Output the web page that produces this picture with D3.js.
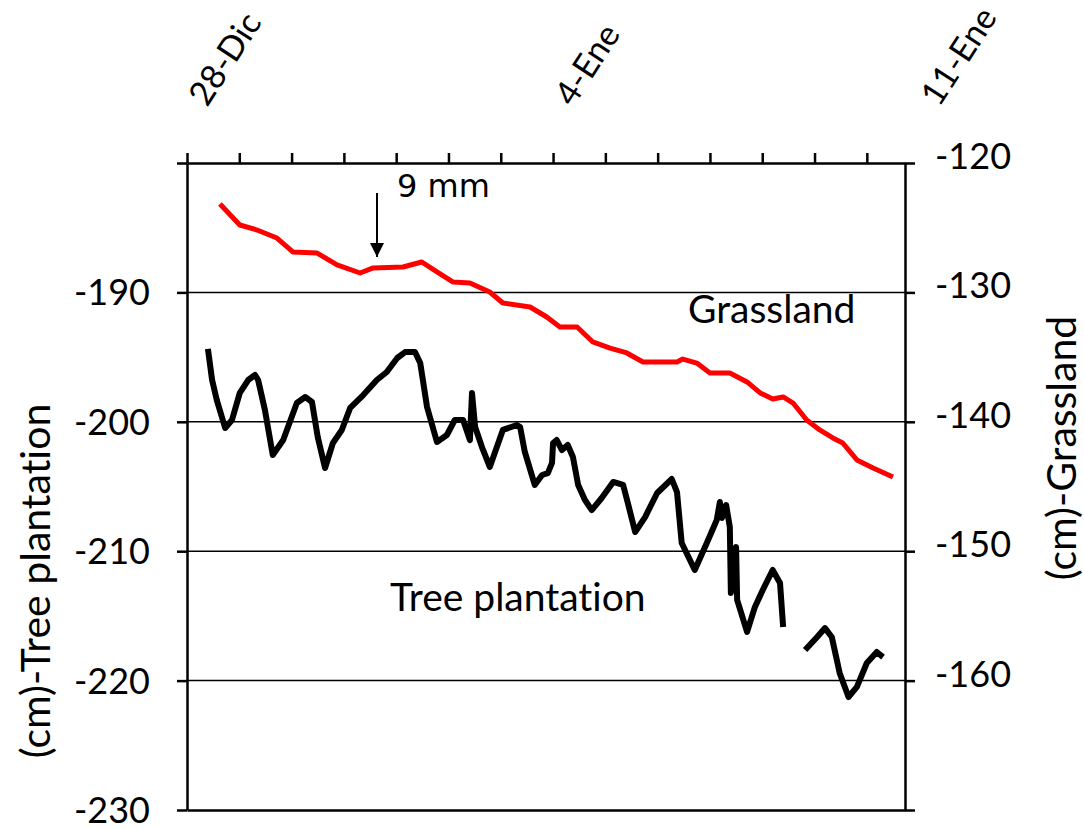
<!DOCTYPE html>
<html>
<head>
    <meta charset="utf-8">
    <style>
        html, body { margin: 0; background: #fff; }
        text { font-family: Lato, 'Open Sans', sans-serif; fill: #000; font-variant-ligatures: none; }
        .axis path, .axis line { stroke: #000; stroke-width: 2.5px; }
        .grid line { stroke: #000; stroke-width: 1.5px; }
    </style>
</head>
<body>
    <svg id="chart" width="1084" height="830"></svg>

    <script src="https://cdn.jsdelivr.net/npm/d3@7/dist/d3.min.js"></script>

    <script>
        // days since 28-Dic
        var dateDays = [0, 7, 14],
            dateLabels = ["28-Dic", "4-Ene", "11-Ene"];

        var leftTicks = [-230, -220, -210, -200, -190, -180],
            rightTicks = [-170, -160, -150, -140, -130, -120];

        // Grassland (right axis)
        var grassDay = [0.63, 1.01, 1.34, 1.72, 2.03, 2.49, 2.87, 3.31, 3.56, 4.13, 4.49, 4.78,
            5.09, 5.41, 5.79, 6.04, 6.56, 6.88, 7.13, 7.46, 7.76, 8.09, 8.41, 8.72, 9.37, 9.48,
            9.75, 10.00, 10.38, 10.71, 10.96, 11.20, 11.40, 11.59, 11.85, 12.10, 12.35, 12.54,
            12.81, 13.12, 13.50];
        var grassVal = [-123.17, -124.79, -125.18, -125.80, -126.88, -126.96, -127.88, -128.50,
            -128.11, -128.04, -127.65, -128.42, -129.20, -129.27, -129.97, -130.82, -131.13,
            -131.90, -132.67, -132.67, -133.83, -134.30, -134.68, -135.38, -135.38, -135.15,
            -135.46, -136.23, -136.23, -136.92, -137.77, -138.24, -138.08, -138.55, -139.86,
            -140.63, -141.25, -141.64, -142.95, -143.57, -144.27];

        // Tree plantation (left axis), null = gap in record
        var treeDay = [0.40, 0.48, 0.57, 0.73, 0.86, 1.01, 1.17, 1.30, 1.36, 1.49, 1.64, 1.84,
            2.10, 2.26, 2.39, 2.50, 2.64, 2.79, 2.96, 3.12, 3.37, 3.63, 3.82, 4.02, 4.17, 4.36,
            4.46, 4.59, 4.78, 4.97, 5.12, 5.28, 5.41, 5.45, 5.51, 5.64, 5.79, 6.04, 6.31, 6.37,
            6.46, 6.65, 6.79, 6.90, 6.98, 7.00, 7.07, 7.17, 7.28, 7.38, 7.48, 7.61, 7.74, 7.93,
            8.15, 8.34, 8.43, 8.57, 8.76, 8.99, 9.27, 9.37, 9.46, 9.71, 9.94, 10.13, 10.19,
            10.23, 10.31, 10.38, 10.40, 10.50, 10.52, 10.71, 10.86, 11.01, 11.20, 11.34, 11.40,
            11.60,
            11.82, 12.05, 12.20, 12.33, 12.48, 12.65, 12.81, 13.00, 13.19, 13.31];
        var treeVal = [-194.37, -196.77, -198.32, -200.48, -199.86, -197.77, -196.77, -196.38,
            -196.77, -199.09, -202.57, -201.41, -198.55, -198.08, -198.47, -201.17, -203.57,
            -201.64, -200.63, -198.93, -197.93, -196.77, -196.15, -195.07, -194.61, -194.61,
            -195.46, -198.86, -201.56, -201.02, -199.86, -199.86, -201.41, -197.77, -200.40,
            -201.95, -203.49, -200.63, -200.25, -200.40, -202.33, -204.88, -204.11, -203.96,
            -203.18, -201.64, -201.41, -202.18, -201.79, -202.72, -204.88, -206.04, -206.82,
            -205.89, -204.65, -204.88, -206.28, -208.52, -207.36, -205.50, -204.42, -205.43,
            -209.37, -211.45, -209.37, -207.59, -206.20, -207.43, -206.43, -208.13, -213.23,
            -209.68, -213.77, -216.24, -214.31, -213.00, -211.45, -212.46, -215.86,
            null,
            -217.64, -216.63, -215.94, -216.63, -219.41, -221.27, -220.49, -218.64, -217.79,
            -218.18];

        var svg = d3.select("#chart");
        var plotL = 187, plotR = 905, plotT = 163, plotB = 810;

        var x = d3.scaleLinear().domain([0, 13.73]).range([plotL, plotR]);
        var yL = d3.scaleLinear().domain([-230, -180]).range([plotB, plotT]);
        var yR = d3.scaleLinear().domain([-170, -120]).range([plotB, plotT]);

        // gridlines
        svg.append("g")
            .attr("class", "grid")
            .selectAll("line")
            .data([-220, -210, -200, -190])
            .enter().append("line")
            .attr("x1", plotL).attr("x2", plotR)
            .attr("y1", function(d) { return yL(d); })
            .attr("y2", function(d) { return yL(d); });

        // axes
        svg.append("g").attr("class", "axis")
            .attr("transform", "translate(" + plotL + ",0)")
            .call(d3.axisLeft(yL).tickValues(leftTicks).tickSize(10).tickSizeOuter(0).tickFormat(""));
        svg.append("g").attr("class", "axis")
            .attr("transform", "translate(" + plotR + ",0)")
            .call(d3.axisRight(yR).tickValues(rightTicks).tickSize(10).tickSizeOuter(0).tickFormat(""));
        svg.append("g").attr("class", "axis")
            .attr("transform", "translate(0," + plotT + ")")
            .call(d3.axisTop(x).tickValues(d3.range(0, 14)).tickSize(10).tickSizeOuter(0).tickFormat(""));
        svg.append("g").attr("class", "axis")
            .attr("transform", "translate(0," + plotB + ")")
            .call(d3.axisBottom(x).tickValues([]).tickSizeOuter(0));

        // tick labels
        svg.append("g").selectAll("text")
            .data(leftTicks.filter(function(d) { return d < -180; }))
            .enter().append("text")
            .attr("x", plotL - 37)
            .attr("y", function(d) { return yL(d); })
            .attr("dy", "0.36em")
            .attr("text-anchor", "end")
            .style("font-size", "36px")
            .text(function(d) { return d; });

        svg.append("g").selectAll("text")
            .data(rightTicks.filter(function(d) { return d > -170; }))
            .enter().append("text")
            .attr("x", plotR + 30)
            .attr("y", function(d) { return yR(d) - 7; })
            .attr("dy", "0.36em")
            .style("font-size", "36px")
            .text(function(d) { return d; });

        // rotated date labels
        svg.append("g").selectAll("text")
            .data(dateDays)
            .enter().append("text")
            .attr("transform", function(d) { return "translate(" + (x(d) + 20) + ",108) rotate(-57)"; })
            .style("font-size", "34px")
            .text(function(d, i) { return dateLabels[i]; });

        // axis titles
        svg.append("text")
            .attr("transform", "translate(50,581) rotate(-90)")
            .attr("text-anchor", "middle")
            .style("font-size", "41px")
            .text("(cm)-Tree plantation");
        svg.append("text")
            .attr("transform", "translate(1076,448) rotate(-90)")
            .attr("text-anchor", "middle")
            .style("font-size", "41px")
            .text("(cm)-Grassland");

        // series
        var grass = grassDay.map(function(d, i) { return [d, grassVal[i]]; });
        var tree = treeDay.map(function(d, i) { return [d, treeVal[i]]; });

        svg.append("path")
            .datum(grass)
            .attr("fill", "none")
            .attr("stroke", "#ff0000")
            .attr("stroke-width", 5)
            .attr("stroke-linejoin", "round")
            .attr("d", d3.line()
                .x(function(d) { return x(d[0]); })
                .y(function(d) { return yR(d[1]); }));

        svg.append("path")
            .datum(tree)
            .attr("fill", "none")
            .attr("stroke", "#000")
            .attr("stroke-width", 6)
            .attr("stroke-linejoin", "round")
            .attr("d", d3.line()
                .defined(function(d) { return d[1] !== null; })
                .x(function(d) { return x(d[0]); })
                .y(function(d) { return yL(d[1]); }));

        // annotations
        svg.append("text")
            .attr("x", 688).attr("y", 323)
            .style("font-size", "39px")
            .text("Grassland");
        svg.append("text")
            .attr("x", 390).attr("y", 611)
            .style("font-size", "39px")
            .text("Tree plantation");

        svg.append("defs").append("marker")
            .attr("id", "head")
            .attr("viewBox", "0 0 10 10")
            .attr("refX", 10).attr("refY", 5)
            .attr("markerWidth", 7).attr("markerHeight", 7)
            .attr("markerUnits", "strokeWidth")
            .attr("orient", "auto")
            .append("path")
            .attr("d", "M0,0L10,5L0,10Z")
            .attr("fill", "#000");

        svg.append("line")
            .attr("x1", 377).attr("x2", 377)
            .attr("y1", 193).attr("y2", 257)
            .attr("stroke", "#000")
            .attr("stroke-width", 2)
            .attr("marker-end", "url(#head)");

        svg.append("text")
            .attr("x", 397).attr("y", 197)
            .style("font-family", "'DejaVu Sans', sans-serif")
            .style("font-size", "32px")
            .text("9 mm");
    </script>
</body>
</html>
